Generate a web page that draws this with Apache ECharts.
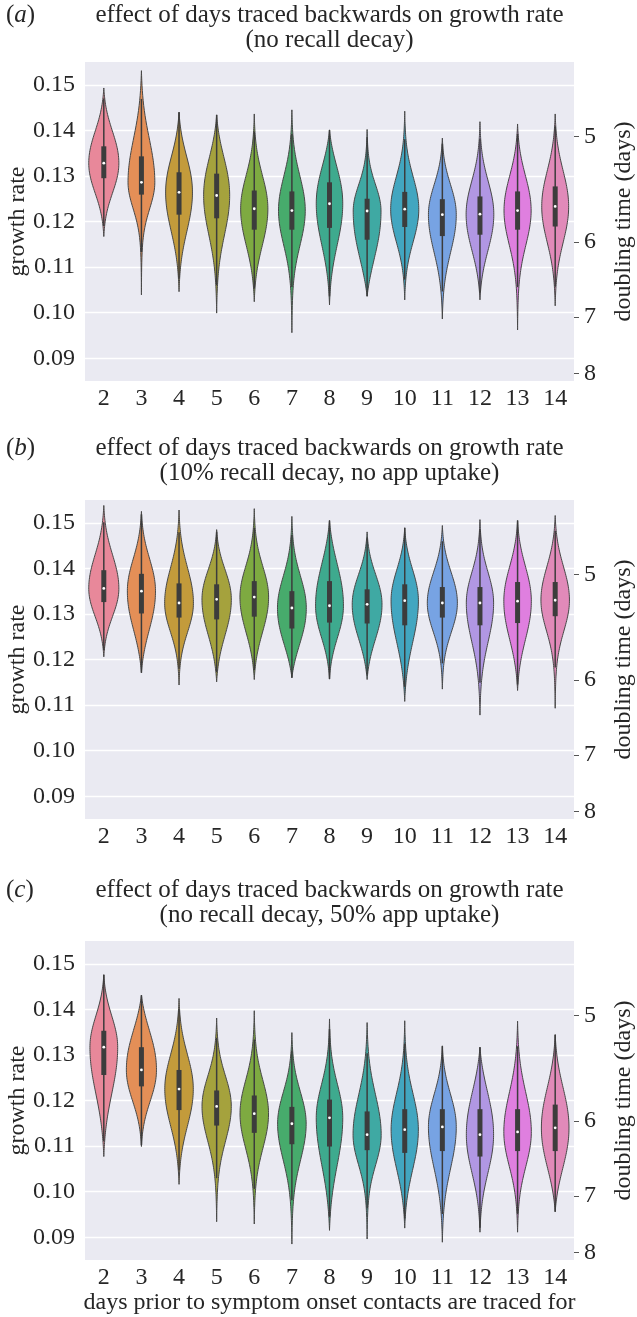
<!DOCTYPE html>
<html>
<head>
<meta charset="utf-8">
<script src="https://cdn.jsdelivr.net/npm/echarts@6/dist/echarts.min.js"></script>
<style>
  html, body { margin: 0; padding: 0; background: #fff; }
  #chart { width: 637px; height: 1317px; }
</style>
</head>
<body>
<div id="chart"></div>
<script>
// days traced backwards (x categories)
const days = ['2', '3', '4', '5', '6', '7', '8', '9', '10', '11', '12', '13', '14'];
// right axis ticks, doubling time in days
const doublingTicks = [5, 6, 7, 8];

const panelTags = ['a', 'b', 'c'];
const panelTitles = [
  'effect of days traced backwards on growth rate\n(no recall decay)',
  'effect of days traced backwards on growth rate\n(10% recall decay, no app uptake)',
  'effect of days traced backwards on growth rate\n(no recall decay, 50% app uptake)'
];

const violinColors = ['#e8889a', '#e48f57', '#c39b3b', '#a5a23d', '#7eaa41', '#47ab6c', '#3eaa8e',
  '#3fa9a3', '#42a6c0', '#77a3e3', '#b197e3', '#df7fdf', '#e18ab9'];

// (a) no recall decay: violin ends, quartiles and median of growth rate
const lowA = [0.1167, 0.1039, 0.1046, 0.0999, 0.1024, 0.0956, 0.1017, 0.1036, 0.1028, 0.0986, 0.1028, 0.0962, 0.1015];
const q1A  = [0.1295, 0.1259, 0.1215, 0.1207, 0.1182, 0.1182, 0.1186, 0.1160, 0.1188, 0.1168, 0.1171, 0.1182, 0.1189];
const medA = [0.1328, 0.1286, 0.1264, 0.1257, 0.1228, 0.1224, 0.1239, 0.1223, 0.1227, 0.1215, 0.1216, 0.1224, 0.1233];
const q3A  = [0.1365, 0.1343, 0.1308, 0.1305, 0.1268, 0.1266, 0.1286, 0.1250, 0.1265, 0.1249, 0.1255, 0.1266, 0.1277];
const highA = [0.1493, 0.1531, 0.1440, 0.1434, 0.1436, 0.1445, 0.1401, 0.1402, 0.1442, 0.1383, 0.1419, 0.1414, 0.1436];

// (b) 10% recall decay, no app uptake
const lowB = [0.1206, 0.1171, 0.1144, 0.1151, 0.1156, 0.1160, 0.1157, 0.1156, 0.1108, 0.1135, 0.1078, 0.1132, 0.1093];
const q1B  = [0.1326, 0.1301, 0.1292, 0.1288, 0.1294, 0.1268, 0.1281, 0.1279, 0.1275, 0.1292, 0.1275, 0.1280, 0.1295];
const medB = [0.1356, 0.1350, 0.1324, 0.1332, 0.1337, 0.1313, 0.1318, 0.1321, 0.1329, 0.1324, 0.1324, 0.1328, 0.1330];
const q3B  = [0.1396, 0.1388, 0.1367, 0.1365, 0.1372, 0.1350, 0.1372, 0.1354, 0.1365, 0.1359, 0.1359, 0.1370, 0.1370];
const highB = [0.1538, 0.1525, 0.1528, 0.1485, 0.1531, 0.1514, 0.1505, 0.1480, 0.1489, 0.1494, 0.1507, 0.1505, 0.1516];

// (c) no recall decay, 50% app uptake
const lowC = [0.1077, 0.1099, 0.1016, 0.0934, 0.0929, 0.0885, 0.0915, 0.0896, 0.0920, 0.0889, 0.0911, 0.0911, 0.0956];
const q1C  = [0.1256, 0.1231, 0.1179, 0.1145, 0.1129, 0.1104, 0.1099, 0.1091, 0.1085, 0.1089, 0.1077, 0.1089, 0.1089];
const medC = [0.1317, 0.1267, 0.1225, 0.1187, 0.1171, 0.1149, 0.1162, 0.1125, 0.1136, 0.1142, 0.1125, 0.1131, 0.1140];
const q3C  = [0.1353, 0.1317, 0.1267, 0.1222, 0.1211, 0.1186, 0.1202, 0.1176, 0.1181, 0.1181, 0.1181, 0.1181, 0.1191];
const highC = [0.1476, 0.1431, 0.1424, 0.1381, 0.1397, 0.1349, 0.1379, 0.1371, 0.1375, 0.1320, 0.1317, 0.1374, 0.1345];

const panels = [
  { lo: lowA, q1: q1A, med: medA, q3: q3A, hi: highA },
  { lo: lowB, q1: q1B, med: medB, q3: q3B, hi: highB },
  { lo: lowC, q1: q1C, med: medC, q3: q3C, hi: highC }
];

const FONT = '"Liberation Serif", "Times New Roman", serif';
const INK = '#262626';
const GRID_TOPS = [62, 500, 941];

// smooth density outline from the quartiles, normalised to equal area
const BW = 0.004, STEPS = 90;
function profile(lo, q1, md, q3, hi) {
  const sLo = Math.hypot((md - q1) / 0.6745, BW);
  const sHi = Math.hypot((q3 - md) / 0.6745, BW);
  const ys = [], f = [];
  const dy = (hi - lo) / STEPS;
  for (let j = 0; j <= STEPS; j++) {
    const y = lo + dy * j;
    const below = y < md;
    const z = (y - md) / (below ? sLo : sHi);
    const u = below ? (md - y) / (md - lo) : (y - md) / (hi - md);
    ys.push(y);
    f.push((0.88 * Math.exp(-z * z / 2) + 0.12 * Math.exp(-z * z / 8)) * (1 - Math.pow(u, 3)));
  }
  let area = 0;
  for (let j = 0; j < STEPS; j++) area += (f[j] + f[j + 1]) / 2 * dy;
  const dens = f.map(v => v / area);
  return { ys: ys, dens: dens, peak: Math.max.apply(null, dens) };
}

panels.forEach(p => {
  p.profiles = days.map((d, k) => profile(p.lo[k], p.q1[k], p.med[k], p.q3[k], p.hi[k]));
  p.maxPeak = Math.max.apply(null, p.profiles.map(pr => pr.peak));
});

function violinItem(pi) {
  const P = panels[pi];
  return function (params, api) {
    const k = params.dataIndex;
    const prof = P.profiles[k];
    // widest violin fills 80% of the band, others a bit narrower
    const half = api.size([1, 0])[0] * 0.4 * Math.pow(prof.peak / P.maxPeak, 0.6);
    const rightSide = [], leftSide = [];
    prof.ys.forEach((y, j) => {
      const pt = api.coord([k, y]);
      const w = prof.dens[j] / prof.peak * half;
      rightSide.push([pt[0] + w, pt[1]]);
      leftSide.unshift([pt[0] - w, pt[1]]);
    });
    const iqr = P.q3[k] - P.q1[k];
    const wLo = api.coord([k, Math.max(P.lo[k], P.q1[k] - 1.5 * iqr)]);
    const wHi = api.coord([k, Math.min(P.hi[k], P.q3[k] + 1.5 * iqr)]);
    const b1 = api.coord([k, P.q1[k]]);
    const b3 = api.coord([k, P.q3[k]]);
    const m = api.coord([k, P.med[k]]);
    return {
      type: 'group',
      children: [
        { type: 'polygon', shape: { points: rightSide.concat(leftSide) },
          style: { fill: violinColors[k], stroke: '#474747', lineWidth: 1 } },
        { type: 'line', shape: { x1: m[0], y1: wLo[1], x2: m[0], y2: wHi[1] },
          style: { stroke: '#3c3c3c', lineWidth: 1.5 } },
        { type: 'rect', shape: { x: m[0] - 2.5, y: b3[1], width: 5, height: b1[1] - b3[1] },
          style: { fill: '#3c3c3c' } },
        { type: 'circle', shape: { cx: m[0], cy: m[1], r: 1.4 }, style: { fill: '#ffffff' } }
      ]
    };
  };
}

const grids = [], xAxes = [], yAxes = [], series = [], graphics = [];
panels.forEach((p, pi) => {
  grids.push({
    left: 85, top: GRID_TOPS[pi], width: 489, height: 319,
    containLabel: false, outerBoundsMode: 'none',
    show: true, backgroundColor: '#eaeaf2', borderWidth: 0
  });
  xAxes.push({
    type: 'category', gridIndex: pi, data: days,
    axisLine: { show: false }, axisTick: { show: false },
    axisLabel: { fontFamily: FONT, fontSize: 24, color: INK, margin: 6 },
    name: pi === 2 ? 'days prior to symptom onset contacts are traced for' : '',
    nameLocation: 'middle', nameGap: 31, nameMoveOverlap: false,
    nameTextStyle: { fontFamily: FONT, fontSize: 24, color: INK }
  });
  yAxes.push({
    type: 'value', gridIndex: pi, min: 0.085, max: 0.155, interval: 0.005,
    axisLine: { show: false }, axisTick: { show: false },
    axisLabel: {
      fontFamily: FONT, fontSize: 24, color: INK, margin: 10,
      formatter: v => (Math.round(v * 1000) % 10 === 0 ? v.toFixed(2) : '')
    },
    splitLine: { show: true, lineStyle: { color: ['rgba(0,0,0,0)', '#ffffff'], width: 1.3 } },
    name: 'growth rate', nameLocation: 'middle', nameRotate: 90, nameGap: 55, nameMoveOverlap: false,
    nameTextStyle: { fontFamily: FONT, fontSize: 24, color: INK }
  });
  const tickVals = doublingTicks.map(d => Math.LN2 / d);
  yAxes.push({
    type: 'value', gridIndex: pi, position: 'right', min: 0.085, max: 0.155,
    axisLine: { show: false },
    axisTick: { show: true, customValues: tickVals, length: 5, lineStyle: { color: '#555', width: 1 } },
    axisLabel: {
      customValues: tickVals, fontFamily: FONT, fontSize: 24, color: INK, margin: 10,
      formatter: v => String(Math.round(Math.LN2 / v))
    },
    splitLine: { show: false },
    name: 'doubling time (days)', nameLocation: 'middle', nameRotate: 90, nameGap: 38, nameMoveOverlap: false,
    nameTextStyle: { fontFamily: FONT, fontSize: 24, color: INK }
  });
  series.push({
    type: 'custom', xAxisIndex: pi, yAxisIndex: 2 * pi, silent: true, clip: false,
    data: days.map((d, k) => [k, p.lo[k], p.q1[k], p.med[k], p.q3[k], p.hi[k]]),
    encode: { x: 0, y: [1, 2, 3, 4, 5] },
    renderItem: violinItem(pi)
  });
  const titleMid = [15, 448, 890][pi];
  graphics.push({
    type: 'text', x: 329.5, y: titleMid - 12.5,
    style: { text: panelTitles[pi], fontFamily: FONT, fontSize: 25, lineHeight: 25, fill: INK,
      align: 'center', verticalAlign: 'top' }
  });
  graphics.push({
    type: 'text', x: 6, y: titleMid,
    style: {
      text: '{p|(}{i|' + panelTags[pi] + '}{p|)}', fill: INK, align: 'left', verticalAlign: 'middle',
      rich: {
        p: { fontFamily: FONT, fontSize: 25, color: INK },
        i: { fontFamily: FONT, fontSize: 25, fontStyle: 'italic', color: INK }
      }
    }
  });
});

const chart = echarts.init(document.getElementById('chart'));
chart.setOption({
  animation: false,
  backgroundColor: '#ffffff',
  grid: grids,
  xAxis: xAxes,
  yAxis: yAxes,
  series: series,
  graphic: graphics
});
</script>
</body>
</html>
